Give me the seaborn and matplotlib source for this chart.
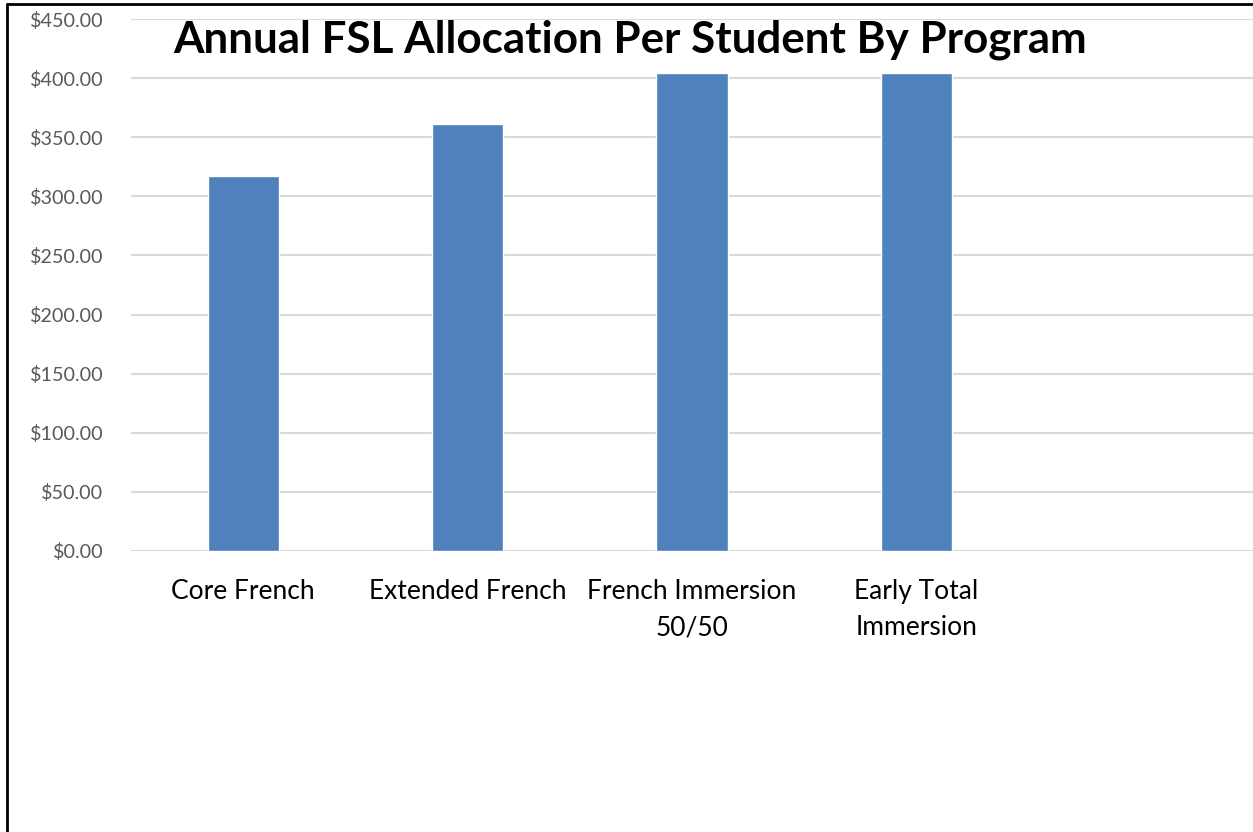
import matplotlib
matplotlib.use("Agg")
import matplotlib.pyplot as plt
from matplotlib.lines import Line2D
from matplotlib.ticker import FuncFormatter
import seaborn as sns

# chart data
programs = ["Core French", "Extended French", "French Immersion\n50/50",
            "Early Total\nImmersion"]
allocation = [317, 361, 404, 404]
y_ticks = [0, 50, 100, 150, 200, 250, 300, 350, 400, 450]

sns.set_style("white")
plt.rcParams['font.family'] = ['Lato', 'DejaVu Sans']

fig = plt.figure(figsize=(12.53, 8.32), dpi=100)
ax = fig.add_axes([131 / 1253, 1 - 551 / 832, 1 - 131 / 1253, (551 - 19) / 832])

sns.barplot(x=programs, y=allocation, color="#4F81BD", saturation=1,
            width=0.317, ax=ax, zorder=3)

ax.set_xlim(-0.5, 4.5)
ax.set_ylim(0, 450)
ax.set_yticks(y_ticks)
ax.yaxis.set_major_formatter(FuncFormatter(lambda v, p: f"${v:,.2f}"))
ax.grid(axis='y', color="#d9d9d9", linewidth=1.5, zorder=0)
ax.set_axisbelow(True)
for s in ax.spines.values():
    s.set_visible(False)

ax.tick_params(axis='y', length=0, pad=20, labelsize=14.2, labelcolor="#595959")
ax.tick_params(axis='x', length=0, pad=20, labelsize=19, labelcolor="black")
for lab in ax.get_xticklabels():
    lab.set_linespacing(1.58)
ax.set_xlabel("")
ax.set_ylabel("")

fig.text(630 / 1253, 1 - 40 / 832, "Annual FSL Allocation Per Student By Program",
         ha='center', va='center', fontsize=31.7, fontweight='bold', color="black")

# chart frame (left and top edges visible)
fig.add_artist(Line2D([7 / 1253, 7 / 1253], [0, 1 - 4 / 832], color="black", linewidth=2))
fig.add_artist(Line2D([7 / 1253, 1], [1 - 4 / 832, 1 - 4 / 832], color="black", linewidth=2))

fig.savefig("out.png", dpi=100)
